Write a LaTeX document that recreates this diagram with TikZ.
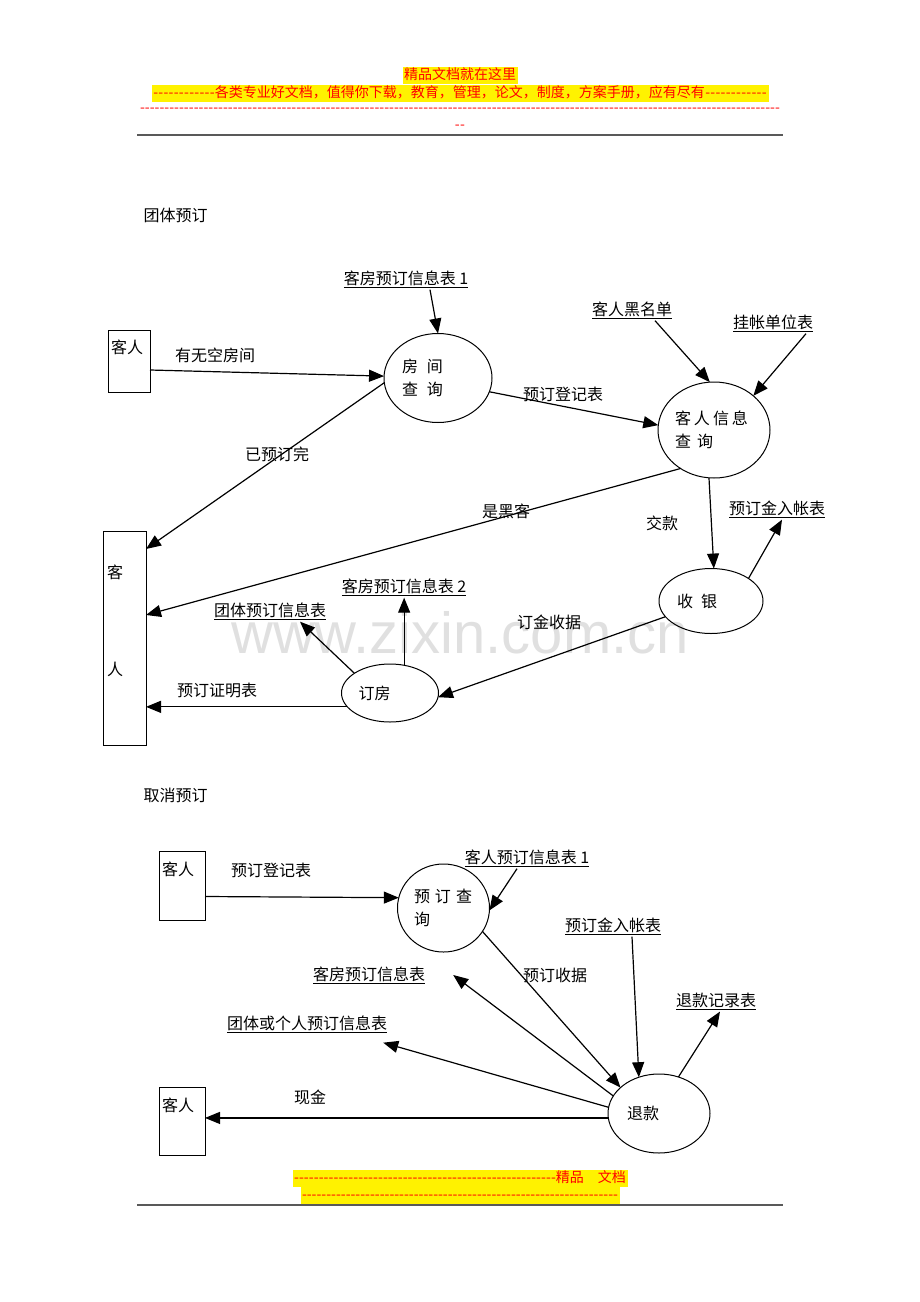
\documentclass[tikz,border=0pt]{standalone}
\usepackage{fontspec}
\setmainfont{Noto Sans CJK SC}
\newfontfamily\wmfont{Liberation Sans}
\usetikzlibrary{shapes.geometric}
\usetikzlibrary{arrows.meta}
\newcommand\dashrun[1]{\hbox to #1{\xleaders\hbox{-}\hfill}}
\tikzset{%
	proc/.style={draw,ellipse,line width=1pt,inner sep=0pt,outer sep=0pt,align=left,font=\fontsize{16}{23.5}\selectfont},
	entity/.style={draw,rectangle,line width=1pt,inner sep=0pt,outer sep=0pt},
	store/.style={inner sep=2pt},
	flow/.style={line width=1.2pt,-{Triangle[length=15pt,width=12pt]}},
	banner/.style={fill=yellow,text=red,inner sep=1.5pt,text height=11pt,text depth=3pt,font=\fontsize{14}{16}\selectfont},
	boxlbl/.style={anchor=north,inner sep=0pt},
}

\begin{document}
\begin{tikzpicture}[x=1pt,y=-1pt,font=\fontsize{16}{19}\selectfont]
	\useasboundingbox (0,0) rectangle (920,1302);
	
	%kopf
	\node[banner] (hdra) at (460,75) {精品文档就在这里};
	\node[banner] (hdrb) at (460,93) {\dashrun{62pt}各类专业好文档，值得你下载，教育，管理，论文，制度，方案手册，应有尽有\dashrun{62pt}};
	\node[text=red,inner sep=0pt,font=\fontsize{14}{16}\selectfont] (hdrc) at (460,110) {\dashrun{640pt}};
	\node[text=red,inner sep=0pt,font=\fontsize{14}{16}\selectfont] (hdrd) at (460,127) {\dashrun{11pt}};
	\draw[line width=2pt,black!65] (137,135) -- (783,135);
	
	\node[text=black!12,font=\wmfont\fontsize{58}{60}\selectfont] (wm) at (460,633) {www.zixin.com.cn};
	
	%团体预订
	\node[anchor=west] (titlea) at (140,215) {团体预订};
	\node[entity,minimum width=42pt,minimum height=62pt,label={[boxlbl,xshift=-2pt,yshift=-10pt]north:客人}] (kr1) at (129,361) {};
	\node[proc,minimum width=108pt,minimum height=89pt,text width=72pt] (fjcx) at (438,378) {房\hspace{9pt}间\\查\hspace{9pt}询};
	\draw[flow] ([yshift=-9pt]kr1.east) -- (fjcx.178);
	\node (lbla) at (215,355) {有无空房间};
	\node[store] (kfyd1) at (406,279) {\underline{客房预订信息表 1}};
	\draw[flow] ([xshift=24pt]kfyd1.south) -- (fjcx.north);
	
	\node[proc,minimum width=112pt,minimum height=96pt,text width=78pt] (krxx) at (714,430) {客\hspace{3pt}人\hspace{3pt}信\hspace{3pt}息\\查\hspace{6pt}询};
	\draw[flow] (fjcx.-15) -- (krxx.175);
	\node (lblb) at (563,394) {预订登记表};
	\node[store] (hmd) at (632,310) {\underline{客人黑名单}};
	\draw[flow] ([xshift=23pt]hmd.south) -- (krxx.95);
	\node[store] (gzdw) at (773,323) {\underline{挂帐单位表}};
	\draw[flow] ([xshift=33pt]gzdw.south) -- (krxx.41);
	
	\node[entity,minimum width=43pt,minimum height=214pt,
		label={[boxlbl,xshift=-9.5pt,yshift=-34pt]north:客},
		label={[boxlbl,xshift=-9.5pt,yshift=-131pt]north:人}] (kr2) at (124.5,638) {};
	\draw[flow] (fjcx.185) -- ([yshift=-18pt]kr2.north east);
	\node (lblc) at (277,454) {已预订完};
	\draw[flow] (krxx.229) -- ([yshift=-84pt]kr2.north east);
	\node (lbld) at (506,511) {是黑客};
	
	\node[proc,minimum width=104pt,minimum height=65pt,text width=68pt] (sy) at (711,601) {收\hspace{8pt}银};
	\draw[flow] (krxx.264) -- (sy.85);
	\node (lble) at (662,523) {交款};
	\node[store] (yjrz) at (777,509) {\underline{预订金入帐表}};
	\draw[flow] (sy.31) -- ([xshift=5pt]yjrz.south);
	
	\node[proc,minimum width=97pt,minimum height=58pt,text width=63pt] (df) at (390,693) {订房};
	\draw[flow] (sy.199) -- (df.355);
	\node (lblf) at (549,622) {订金收据};
	\node[store] (ttydxx) at (270,611) {\underline{团体预订信息表}};
	\draw[flow] (df.151) -- ([xshift=30pt]ttydxx.south);
	\node[store] (kfyd2) at (404,587) {\underline{客房预订信息表 2}};
	\draw[flow] (df.63) -- (df.63 |- kfyd2.south);
	\draw[flow] (df.198) -- (df.198 -| kr2.east);
	\node (lblg) at (217,690) {预订证明表};
	
	%取消预订
	\node[anchor=west] (titleb) at (140,795) {取消预订};
	\node[entity,minimum width=46pt,minimum height=69pt,label={[boxlbl,xshift=-4pt,yshift=-11pt]north:客人}] (kr3) at (182,885.5) {};
	\node[proc,minimum width=92pt,minimum height=88pt,text width=59pt] (ydcx) at (443.5,908) {预\hspace{5pt}订\hspace{5pt}查\\询};
	\draw[flow] ([yshift=-11pt]kr3.east) -- (ydcx.167);
	\node (lblh) at (271,870) {预订登记表};
	\node[store] (kryd1) at (527,858) {\underline{客人预订信息表 1}};
	\draw[flow] ([xshift=-10pt]kryd1.south) -- (ydcx.357);
	
	\node[proc,minimum width=102pt,minimum height=79pt,text width=64pt] (tk) at (659,1113.5) {退款};
	\draw[flow] (ydcx.329) -- (tk.146);
	\node (lbli) at (555,975) {预订收据};
	\node[store] (yjrz2) at (613,926) {\underline{预订金入帐表}};
	\draw[flow] ([xshift=19pt]yjrz2.south) -- (tk.119);
	\node[store] (tkjl) at (716,1001) {\underline{退款记录表}};
	\draw[flow] (tk.62) -- ([xshift=4pt]tkjl.south);
	\node[store] (kfyd3) at (369,975) {\underline{客房预订信息表}};
	\draw[flow] (tk.159) -- ([xshift=26pt]kfyd3.east);
	\node[store] (tthgr) at (307,1024) {\underline{团体或个人预订信息表}};
	\draw[flow] (tk.173) -- ([xshift=-6pt,yshift=-8pt]tthgr.south east);
	\node[entity,minimum width=46pt,minimum height=68pt,label={[boxlbl,xshift=-4pt,yshift=-11pt]north:客人}] (kr4) at (182,1121) {};
	\draw[flow] (tk.185) -- (tk.185 -| kr4.east);
	\node (lblj) at (310,1097) {现金};
	
	%fuss
	\node[banner] (ftra) at (460,1178) {\dashrun{262pt}精品　文档};
	\node[banner] (ftrb) at (460,1195) {\dashrun{316pt}};
	\draw[line width=2pt,black!65] (137,1205) -- (783,1205);
\end{tikzpicture}
\end{document}
